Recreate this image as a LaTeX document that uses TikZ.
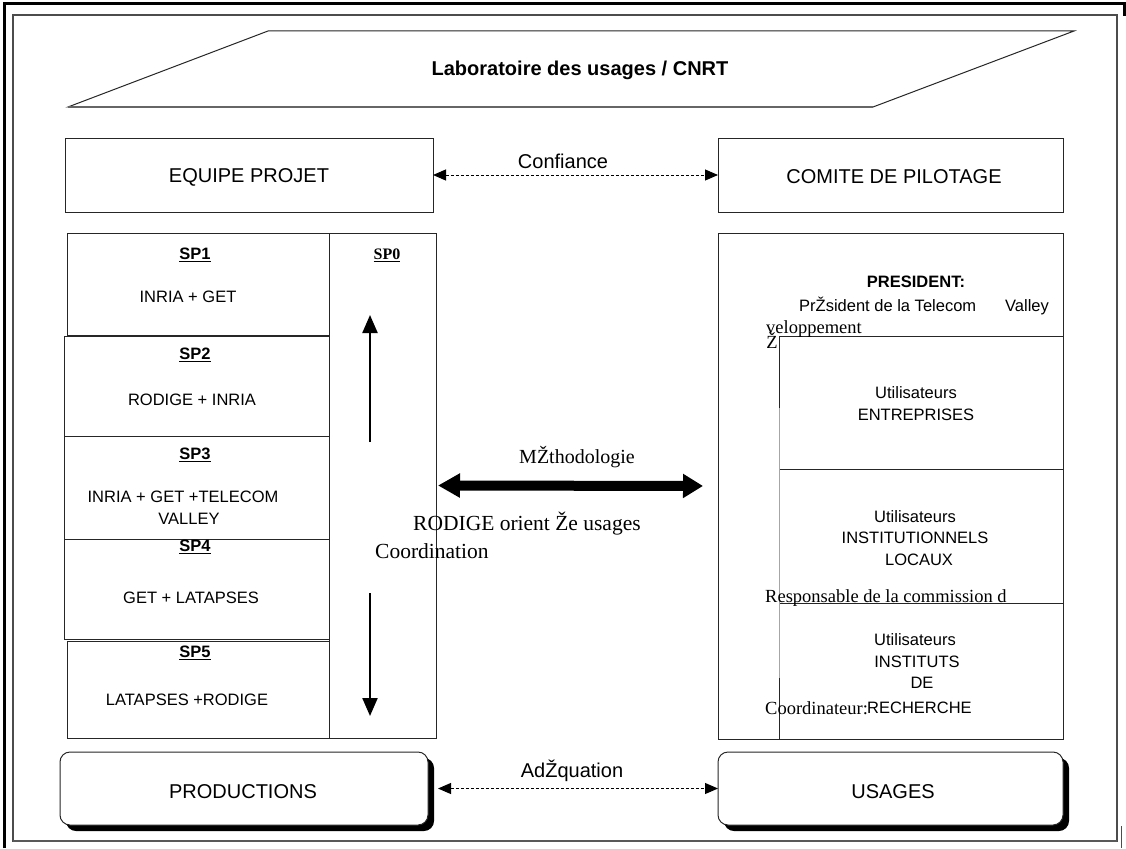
\documentclass[tikz,border=0pt]{standalone}
\usepackage{fontspec}
\setmainfont{Liberation Serif}
\setsansfont{Liberation Sans}
\usetikzlibrary{arrows.meta,fit}
\begin{document}
\begin{tikzpicture}[x=1pt,y=-1pt,
  line/.style={draw=black!85, line width=1pt},
  box/.style={draw=black!85, line width=1pt, inner sep=0pt, outer sep=0pt},
  sf/.style={font=\sffamily\fontsize{16.5}{19}\selectfont, inner sep=0pt},
  sfl/.style={font=\sffamily\fontsize{20}{23}\selectfont, inner sep=0pt},
  sfb/.style={font=\sffamily\bfseries\fontsize{16.5}{19}\selectfont, inner sep=0pt},
  rmt/.style={font=\rmfamily\fontsize{18.5}{21}\selectfont, inner sep=0pt},
  rmb/.style={font=\rmfamily\fontsize{21.5}{24}\selectfont, inner sep=0pt},
  dasharrow/.style={densely dashed, line width=1pt, {Triangle[length=13pt,width=11pt]}-{Triangle[length=13pt,width=11pt]}},
  vertarrow/.style={line width=2.2pt, -{Triangle[length=18pt,width=15pt]}},
  meth/.style={line width=10pt, {Triangle[length=22pt,width=23pt]}-{Triangle[length=20pt,width=23pt]}},
  shadowbox/.style={draw=black!85, line width=1pt, fill=white, rounded corners=10pt, inner sep=0pt, outer sep=0pt}
]
\useasboundingbox (0,0) rectangle (1126,848);
\fill[white] (0,0) rectangle (1126,848);
% page frames
\draw[line width=3pt] (4,848) -- (4,4) -- (1124,4) -- (1124,16);
\draw[draw=black!70, line width=1.2pt] (13,15) rectangle (1117,841);
\draw[draw=black!65, line width=2.2pt] (13,841) -- (1117,841);
\draw[draw=black!70, line width=1pt] (1121,826) -- (1121,848);

% title parallelogram
\draw[line] (268,31) -- (1074,31) -- (873,107) -- (68,107) -- cycle;
\draw[draw=black!60, line width=1.8pt] (873,107) -- (68,107);
\node[font=\sffamily\bfseries\fontsize{20}{23}\selectfont, inner sep=0pt] (title) at (580,70) {Laboratoire des usages / CNRT};

% top boxes
\node[box, fit={(65,138) (433,212)}] (equipe) {};
\node[sfl] (equipeT) at (249,177) {EQUIPE PROJET};
\node[box, fit={(718,138) (1063,212)}] (comite) {};
\node[sfl] (comiteT) at (894,177) {COMITE DE PILOTAGE};
\draw[dasharrow] (equipe.east) -- (comite.west);
\node[sfl] (confT) at (563,161) {Confiance};

% left panel
\node[box, fit={(67,233) (329,335)}] (sp1) {};
\node[box, fit={(64,336) (329,436)}] (sp2) {};
\node[box, fit={(64,436) (329,539)}] (sp3) {};
\node[box, fit={(64,539) (329,639)}] (sp4) {};
\node[box, fit={(67,641) (329,738)}] (sp5) {};
\node[box, fit={(329,233) (436,738)}] (sp0) {};

\node[sfb] (sp1L) at (195,255) {\underline{SP1}};
\node[sf] (sp1T) at (188,297) {INRIA + GET};
\node[sfb] (sp2L) at (195,355) {\underline{SP2}};
\node[sf] (sp2T) at (192,400) {RODIGE + INRIA};
\node[sfb] (sp3L) at (195,455) {\underline{SP3}};
\node[sf] (sp3T) at (183,497) {INRIA + GET +TELECOM};
\node[sf] (sp3T2) at (189,519) {VALLEY};
\node[sfb] (sp4L) at (195,547) {\underline{SP4}};
\node[sf] (sp4T) at (191,598) {GET + LATAPSES};
\node[sfb] (sp5L) at (195,653) {\underline{SP5}};
\node[sf] (sp5T) at (187,700) {LATAPSES +RODIGE};
\node[font=\rmfamily\bfseries\fontsize{16}{19}\selectfont, inner sep=0pt] (sp0L) at (387,255) {\underline{SP0}};

\coordinate (upS) at (370,442);
\coordinate (upE) at (370,315);
\coordinate (dnS) at (370,593);
\coordinate (dnE) at (370,716);
\draw[vertarrow] (upS) -- (upE);
\draw[vertarrow] (dnS) -- (dnE);

% right panel
\node[box, fit={(718,233) (1063,739)}] (comp) {};
\draw[line] (779,336) -- (1063,336);
\draw[line] (779,469) -- (1063,469);
\draw[line] (779,603) -- (1063,603);
\draw[draw=black!35, line width=0.8pt] (779,336) -- (779,739);
\draw[line] (779,336) -- (779,408);
\draw[line] (779,678) -- (779,739);

\node[sfb] (presL) at (916,282) {PRESIDENT:};
\node[sf, anchor=west] (presT) at (799,306) {PrŽsident de la Telecom\hspace{29pt}Valley};
\node[rmt, anchor=west] (devT) at (766,329) {veloppement};
\node[rmt] (devZ) at (772,341) {Ž};
\node[sf] (entU) at (916,393) {Utilisateurs};
\node[sf] (entT) at (916,415) {ENTREPRISES};
\node[sf] (insU) at (915,517) {Utilisateurs};
\node[sf] (insT) at (915,538) {INSTITUTIONNELS};
\node[sf] (insT2) at (919,560) {LOCAUX};
\node[rmt, anchor=west] (respT) at (765,598) {Responsable de la commission d};
\node[sf] (recU) at (915,640) {Utilisateurs};
\node[sf] (recT) at (917,662) {INSTITUTS};
\node[sf] (recT2) at (922,683) {DE};
\node[rmt, anchor=west] (coordT) at (765,708) {Coordinateur:};
\node[sf, anchor=west] (recT3) at (867,708) {RECHERCHE};

% methodology arrow
\draw[meth, shorten <=2pt, shorten >=15pt] (sp0.east) -- (comp.west);
\node[font=\rmfamily\fontsize{20}{23}\selectfont, inner sep=0pt] (methT) at (577,457) {MŽthodologie};
\node[rmb, anchor=west] (rodT) at (413,524) {RODIGE orient Že usages};
\node[rmb, anchor=west] (coorT) at (375,551) {Coordination};

% bottom boxes
\fill[black, rounded corners=10pt] (66,758) rectangle (434,831);
\node[shadowbox, fit={(60,752) (428,825)}] (prod) {};
\node[sfl] (prodT) at (243,792) {PRODUCTIONS};
\fill[black, rounded corners=10pt] (724,758) rectangle (1069,831);
\node[shadowbox, fit={(718,752) (1063,825)}] (usages) {};
\node[sfl] (usagesT) at (893,792) {USAGES};
\draw[dasharrow, shorten <=10pt] (prod.east) -- (usages.west);
\node[sfl] (adeqT) at (572,771) {AdŽquation};
\end{tikzpicture}
\end{document}
